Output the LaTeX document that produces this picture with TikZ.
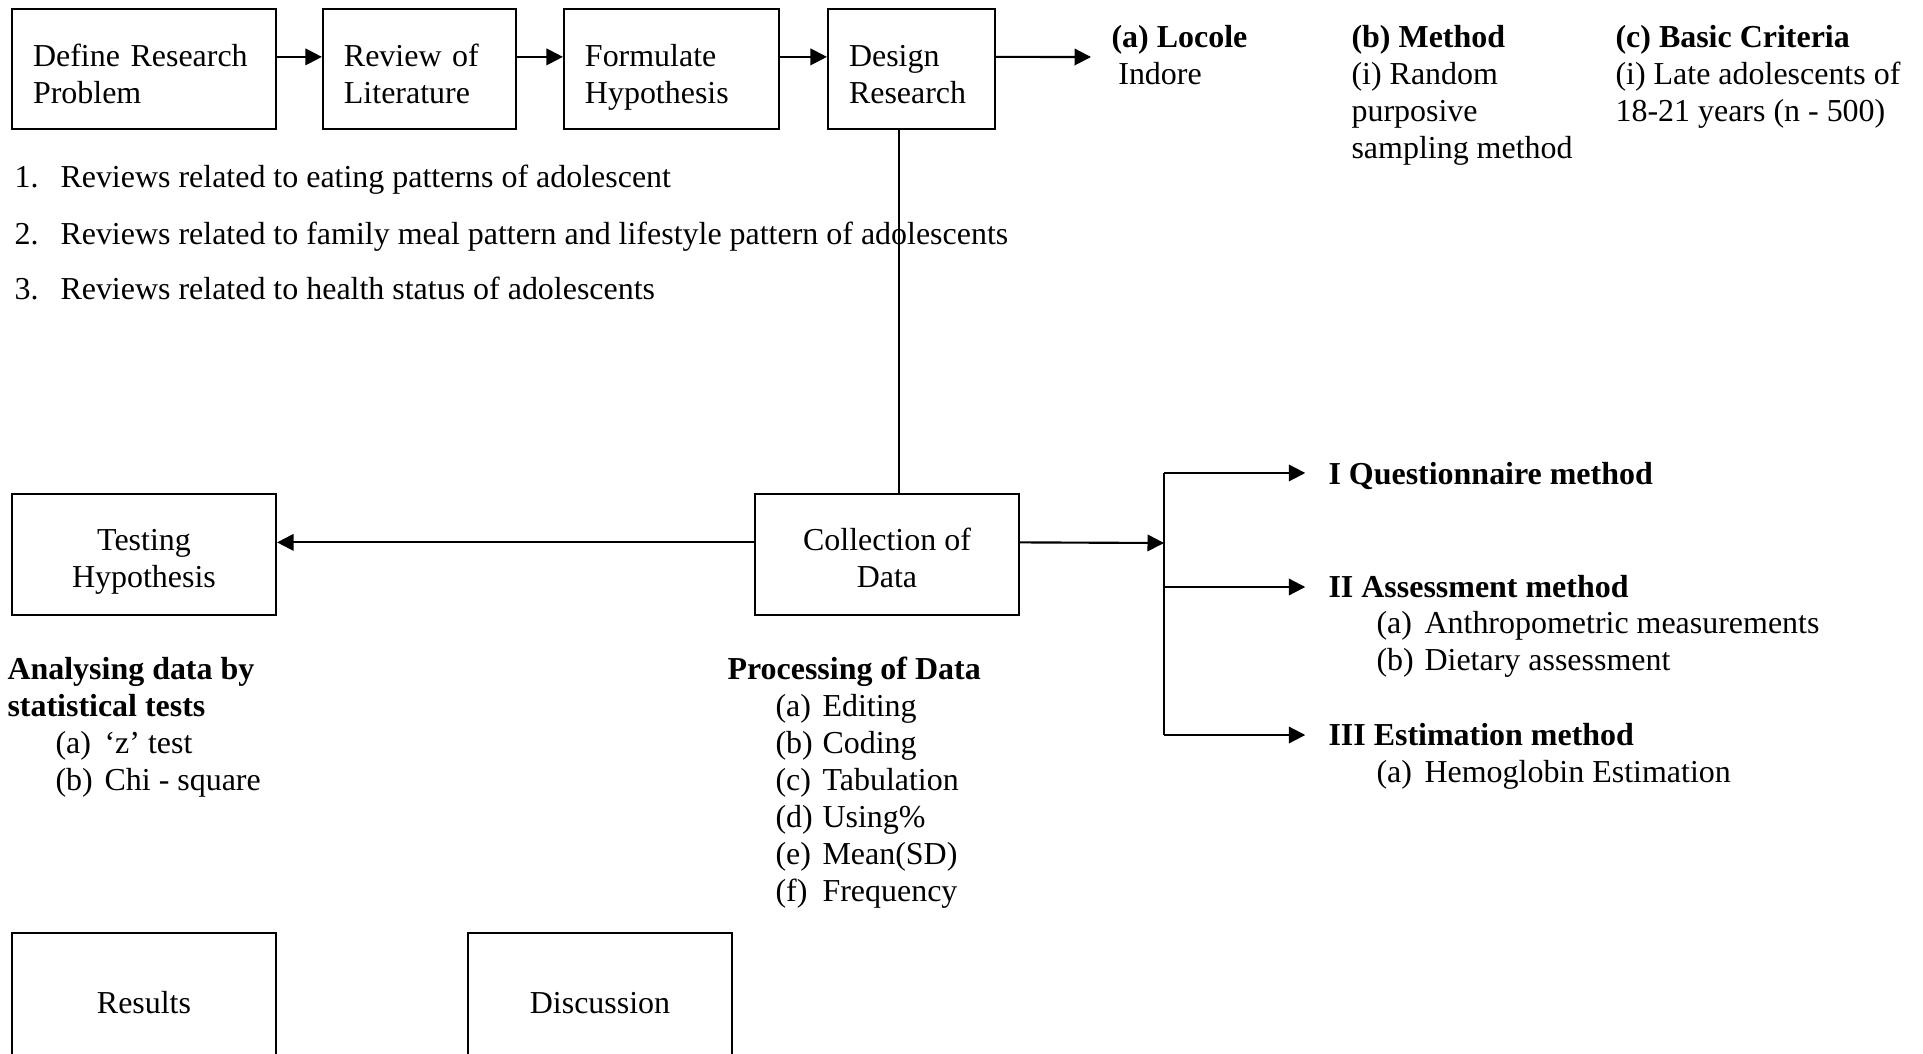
\documentclass[tikz,border=0pt]{standalone}
\usepackage{fontspec}
\setmainfont{Liberation Serif}
\usepackage{tikz}
\usetikzlibrary{arrows.meta, positioning}
\tikzstyle{block} = [rectangle, draw=black, line width=0.8pt, minimum height=1.58cm, inner xsep=0.277cm, align=left, text height=14.5pt, text depth=16.5pt]
\tikzstyle{process} = [rectangle, draw=black, line width=0.8pt, minimum width=3.485cm, minimum height=1.6cm, text centered, align=center, text height=27.7pt, text depth=2.6pt]
\tikzstyle{txt} = [inner sep=0pt, align=left]
\tikzstyle{arrow} = [line width=0.8pt,->,>={Triangle[length=6.2pt,width=6.2pt]}]
\tikzstyle{link} = [line width=0.8pt]
\newcommand{\enumlbl}[2]{\makebox[#1][l]{#2}}

\begin{document}
\begin{tikzpicture}[x=0.0132cm, y=-0.0132cm, font={\fontsize{12}{13.9}\selectfont}]
\useasboundingbox (0,0) rectangle (1923,1053);
\clip (0,0) rectangle (1923,1053);

% Nodes
\node (define) [block, text width=2.93cm] at (144,69) {Define Research\\Problem};
\node (review) [block, text width=1.994cm] at (419.5,69) {Review of\\Literature};
\node (formulate) [block, text width=2.284cm] at (671.5,69) {Formulate\\Hypothesis};
\node (design) [block, text width=1.65cm] at (911.5,69) {Design\\Research};

\node (locole) [txt, anchor=north west] at (1111,25) {\textbf{(a) Locole}\\\hspace*{0.09cm}Indore};
\node (method) [txt, anchor=north west] at (1351,25) {\textbf{(b) Method}\\(i) Random\\purposive\\sampling method};
\node (criteria) [txt, anchor=north west] at (1615,25) {\textbf{(c) Basic Criteria}\\(i) Late adolescents of\\18-21 years (n - 500)};

\node (rev1) [txt, anchor=west] at (14,180) {\enumlbl{0.607cm}{1.}Reviews related to eating patterns of adolescent};
\node (rev2) [txt, anchor=west] at (14,237) {\enumlbl{0.607cm}{2.}Reviews related to family meal pattern and lifestyle pattern of adolescents};
\node (rev3) [txt, anchor=west] at (14,288) {\enumlbl{0.607cm}{3.}Reviews related to health status of adolescents};

\node (testing) [process] at (144,554.5) {Testing\\Hypothesis};
\node (collection) [process] at (887,554.5) {Collection of\\Data};

\node (analysing) [txt, anchor=north west] at (7,657) {\textbf{Analysing data by}\\\textbf{statistical tests}\\
  \hspace*{0.634cm}\enumlbl{0.647cm}{(a)}‘z’ test\\
  \hspace*{0.634cm}\enumlbl{0.647cm}{(b)}Chi - square};
\node (processing) [txt, anchor=north west] at (727,656) {\textbf{Processing of Data}\\
  \hspace*{0.634cm}\enumlbl{0.62cm}{(a)}Editing\\
  \hspace*{0.634cm}\enumlbl{0.62cm}{(b)}Coding\\
  \hspace*{0.634cm}\enumlbl{0.62cm}{(c)}Tabulation\\
  \hspace*{0.634cm}\enumlbl{0.62cm}{(d)}Using\%\\
  \hspace*{0.634cm}\enumlbl{0.62cm}{(e)}Mean(SD)\\
  \hspace*{0.634cm}\enumlbl{0.62cm}{(f)}Frequency};

\node (ques) [txt, anchor=west] at (1328,476) {\textbf{I Questionnaire method}};
\node (assess) [txt, anchor=west] at (1328,587) {\textbf{II Assessment method}};
\node (assessitems) [txt, anchor=north west] at (1376,611) {\enumlbl{0.634cm}{(a)}Anthropometric measurements\\\enumlbl{0.634cm}{(b)}Dietary assessment};
\node (estim) [txt, anchor=west] at (1328,735) {\textbf{III Estimation method}};
\node (estimitems) [txt, anchor=north west] at (1376,760) {\enumlbl{0.634cm}{(a)}Hemoglobin Estimation};

\node (results) [process, minimum height=1.77cm, text height=12.8pt, text depth=3pt] at (144,1000) {Results};
\node (discussion) [process, minimum height=1.77cm, text height=12.8pt, text depth=3pt] at (600,1000) {Discussion};

\coordinate (loctip) at (1091,57);
\coordinate (split) at (1164,543);

% Arrows
\draw [arrow] ([yshift=0.16cm]define.east) -- ([yshift=0.16cm]review.west);
\draw [arrow] ([yshift=0.16cm]review.east) -- ([yshift=0.16cm]formulate.west);
\draw [arrow] ([yshift=0.16cm]formulate.east) -- ([yshift=0.16cm]design.west);
\draw [arrow] ([yshift=0.16cm]design.east) -- (loctip);
\draw [link] ([xshift=-0.165cm]design.south) -- ([xshift=-0.165cm]design.south |- collection.north);
\draw [arrow] ([yshift=0.16cm]collection.west) -- ([yshift=0.16cm]testing.east);
\draw [arrow] ([yshift=0.16cm]collection.east) -- (split);

% Branches to the methods
\draw [link] ([yshift=0.04cm]split |- ques.west) -- (split |- estim.west);
\draw [arrow] ([yshift=0.04cm]split |- ques.west) -- ([xshift=-0.3cm,yshift=0.04cm]ques.west);
\foreach \n in {assess, estim}
  \draw [arrow] (split |- \n.west) -- ([xshift=-0.3cm]\n.west);

\end{tikzpicture}
\end{document}
